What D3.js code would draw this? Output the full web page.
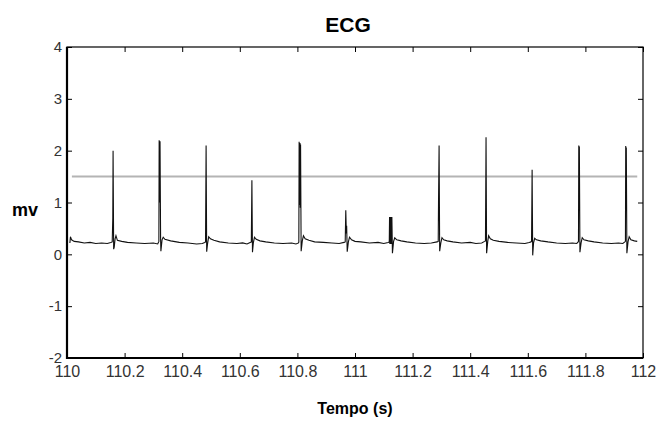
<!DOCTYPE html>
<html>
<head>
<meta charset="utf-8">
<script src="https://cdn.jsdelivr.net/npm/d3@7"></script>
<style>
    body { margin: 0; background: #fff; }
    text { font-family: Arial, "Liberation Sans", sans-serif; }
</style>
</head>
<body>
<div class="chart-container"></div>
<script>
// ECG trace: [time (s), mv]
const ecg = [
    [110.010, 0.22], [110.012, 0.34], [110.016, 0.28], [110.025, 0.25], [110.040, 0.24], [110.060, 0.22], [110.080, 0.23], [110.100, 0.21], [110.120, 0.22], [110.140, 0.21], [110.152, 0.23], [110.157, 0.24],
    [110.159, 0.70], [110.160, 2.00], [110.162, 0.10], [110.164, 0.14], [110.167, 0.30], [110.170, 0.36], [110.175, 0.27], [110.190, 0.25], [110.210, 0.23], [110.240, 0.22], [110.270, 0.21], [110.300, 0.22], [110.315, 0.20],
    [110.319, 0.25], [110.320, 2.20], [110.322, 1.00], [110.323, 2.18], [110.325, 0.30], [110.326, 0.06], [110.330, 0.28], [110.334, 0.33], [110.340, 0.29], [110.360, 0.26], [110.390, 0.23], [110.420, 0.22], [110.450, 0.20], [110.470, 0.21], [110.478, 0.23],
    [110.481, 0.24], [110.483, 2.10], [110.485, 0.05], [110.488, 0.20], [110.492, 0.34], [110.498, 0.30], [110.510, 0.27], [110.530, 0.24], [110.560, 0.22], [110.590, 0.21], [110.610, 0.22], [110.625, 0.20], [110.636, 0.23],
    [110.640, 0.24], [110.642, 1.43], [110.644, 0.04], [110.647, 0.22], [110.651, 0.33], [110.657, 0.29], [110.670, 0.26], [110.690, 0.24], [110.720, 0.22], [110.750, 0.21], [110.780, 0.22], [110.795, 0.20], [110.804, 0.22],
    [110.805, 0.24], [110.806, 2.17], [110.807, 0.95], [110.809, 2.15], [110.810, 0.90], [110.811, 2.12], [110.813, 0.06], [110.817, 0.26], [110.821, 0.36], [110.827, 0.30], [110.840, 0.27], [110.860, 0.24], [110.890, 0.23], [110.920, 0.22], [110.945, 0.21], [110.962, 0.23],
    [110.966, 0.24], [110.968, 0.85], [110.970, 0.40], [110.971, 0.55], [110.973, 0.05], [110.977, 0.24], [110.981, 0.33], [110.988, 0.28], [111.000, 0.25], [111.020, 0.24], [111.050, 0.22], [111.080, 0.23], [111.100, 0.21], [111.115, 0.23],
    [111.119, 0.24], [111.120, 0.72], [111.121, 0.20], [111.122, 0.72], [111.123, 0.20], [111.124, 0.72], [111.125, 0.20], [111.126, 0.72], [111.127, 0.20], [111.128, 0.72], [111.130, 0.02], [111.134, 0.25], [111.138, 0.32], [111.145, 0.28], [111.160, 0.26], [111.180, 0.24], [111.210, 0.22], [111.240, 0.21], [111.265, 0.22], [111.285, 0.24],
    [111.289, 0.25], [111.290, 1.00], [111.292, 2.10], [111.294, 0.06], [111.298, 0.22], [111.302, 0.32], [111.308, 0.28], [111.320, 0.26], [111.340, 0.24], [111.370, 0.22], [111.400, 0.23], [111.420, 0.21], [111.440, 0.22], [111.450, 0.25],
    [111.453, 0.26], [111.455, 2.26], [111.457, 0.02], [111.461, 0.25], [111.464, 0.36], [111.470, 0.30], [111.480, 0.27], [111.500, 0.25], [111.530, 0.23], [111.560, 0.22], [111.590, 0.21], [111.605, 0.23], [111.611, 0.24],
    [111.613, 0.25], [111.615, 1.63], [111.617, -0.02], [111.620, 0.22], [111.624, 0.31], [111.630, 0.28], [111.645, 0.26], [111.670, 0.24], [111.700, 0.22], [111.730, 0.21], [111.755, 0.22], [111.770, 0.21], [111.775, 0.24],
    [111.776, 0.25], [111.777, 2.10], [111.778, 1.20], [111.779, 2.08], [111.781, 0.04], [111.785, 0.22], [111.789, 0.32], [111.795, 0.28], [111.810, 0.26], [111.830, 0.24], [111.860, 0.22], [111.890, 0.21], [111.915, 0.22], [111.930, 0.21], [111.937, 0.24],
    [111.939, 0.25], [111.940, 2.09], [111.941, 1.30], [111.942, 2.06], [111.944, 0.02], [111.948, 0.24], [111.952, 0.34], [111.958, 0.28], [111.970, 0.26], [111.980, 0.25]
];

// gray threshold line
const thresholdX = [110.017, 111.980];
const thresholdY = 1.5;

const xTicks = [110, 110.2, 110.4, 110.6, 110.8, 111, 111.2, 111.4, 111.6, 111.8, 112];
const yTicks = [-2, -1, 0, 1, 2, 3, 4];

function draw(data) {
    const width = 659;
    const height = 421;
    const marginTop = 47;
    const marginRight = 16;
    const marginBottom = 63;
    const marginLeft = 67;

    const x = d3.scaleLinear()
        .domain([110, 112])
        .range([marginLeft, width - marginRight]);

    const y = d3.scaleLinear()
        .domain([-2, 4])
        .range([height - marginBottom, marginTop]);

    const svg = d3.select('.chart-container').append("svg")
        .attr("width", width)
        .attr("height", height);

    svg.append("rect")
        .attr("width", width)
        .attr("height", height)
        .attr("fill", "#fff");

    // threshold
    svg.append("line")
        .attr("x1", x(thresholdX[0]))
        .attr("x2", x(thresholdX[1]))
        .attr("y1", y(thresholdY))
        .attr("y2", y(thresholdY))
        .attr("stroke", "#b4b4b4")
        .attr("stroke-width", 2);

    // ECG line
    const line = d3.line()
        .x(d => x(d[0]))
        .y(d => y(d[1]));

    svg.append("path")
        .datum(data)
        .attr("fill", "none")
        .attr("stroke", "#111")
        .attr("stroke-width", 1.1)
        .attr("d", line);

    // axes, ticks pointing inside
    const fmt = d => String(+d.toFixed(1));

    svg.append("g")
        .attr("transform", `translate(0,${height - marginBottom})`)
        .call(d3.axisBottom(x).tickValues(xTicks).tickFormat(fmt).tickSize(-5).tickPadding(8))
        .call(g => g.selectAll("text").style("font-size", "16px").attr("fill", "#333"));

    svg.append("g")
        .attr("transform", `translate(0,${marginTop})`)
        .call(d3.axisTop(x).tickValues(xTicks).tickFormat("").tickSize(-5));

    svg.append("g")
        .attr("transform", `translate(${marginLeft},0)`)
        .call(d3.axisLeft(y).tickValues(yTicks).tickFormat(d => String(d)).tickSize(-5).tickPadding(5))
        .call(g => g.selectAll("text").style("font-size", "15px").attr("fill", "#333"));

    svg.append("g")
        .attr("transform", `translate(${width - marginRight},0)`)
        .call(d3.axisRight(y).tickValues(yTicks).tickFormat("").tickSize(-5));

    svg.selectAll(".domain").remove();

    // box
    svg.append("rect")
        .attr("x", marginLeft)
        .attr("y", marginTop)
        .attr("width", width - marginLeft - marginRight)
        .attr("height", height - marginTop - marginBottom)
        .attr("fill", "none")
        .attr("stroke", "#000")
        .attr("stroke-width", 1.2);

    svg.append("path")
        .attr("d", `M${marginLeft},${marginTop}V${height - marginBottom}H${width - marginRight}`)
        .attr("fill", "none")
        .attr("stroke", "#000")
        .attr("stroke-width", 2.2);

    // labels
    svg.append("text")
        .attr("x", 348)
        .attr("y", 32)
        .attr("text-anchor", "middle")
        .style("font-size", "21px")
        .style("font-weight", "bold")
        .text("ECG");

    svg.append("text")
        .attr("x", 12)
        .attr("y", 216)
        .style("font-size", "18px")
        .style("font-weight", "bold")
        .text("mv");

    svg.append("text")
        .attr("x", 355)
        .attr("y", 414)
        .attr("text-anchor", "middle")
        .style("font-size", "16px")
        .style("font-weight", "bold")
        .text("Tempo (s)");
}

draw(ecg);
</script>
</body>
</html>
